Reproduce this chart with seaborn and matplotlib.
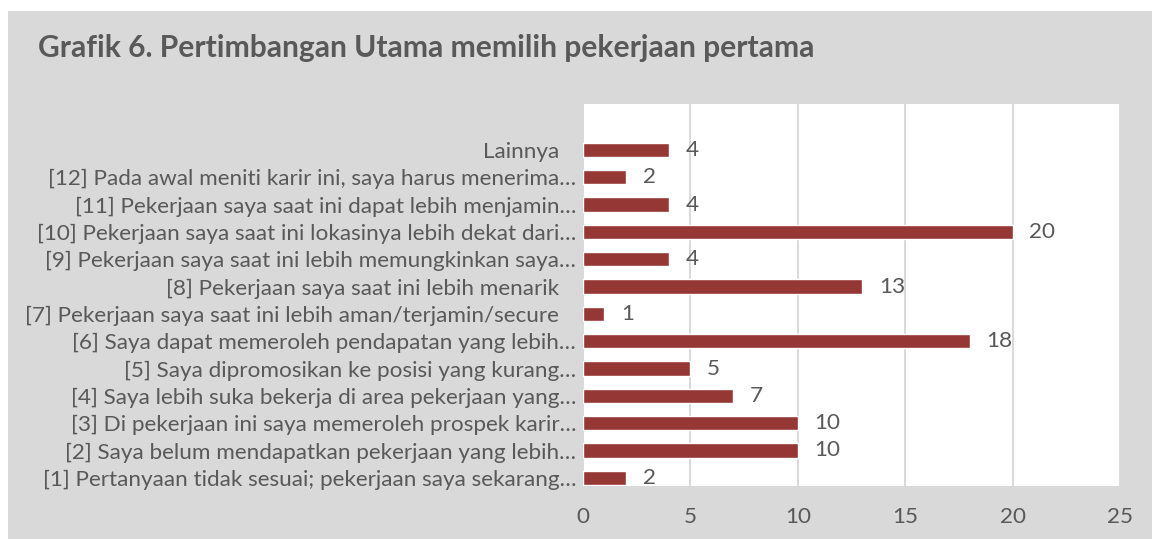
import pandas as pd
import matplotlib.pyplot as plt
import seaborn as sns
from matplotlib.patches import Rectangle

# data, top to bottom as shown in the chart
labels = [
    "Lainnya",
    "[12] Pada awal meniti karir ini, saya harus menerima…",
    "[11] Pekerjaan saya saat ini dapat lebih menjamin…",
    "[10] Pekerjaan saya saat ini lokasinya lebih dekat dari…",
    "[9] Pekerjaan saya saat ini lebih memungkinkan saya…",
    "[8] Pekerjaan saya saat ini lebih menarik",
    "[7] Pekerjaan saya saat ini lebih aman/terjamin/secure",
    "[6] Saya dapat memeroleh pendapatan yang lebih…",
    "[5] Saya dipromosikan ke posisi yang kurang…",
    "[4] Saya lebih suka bekerja di area pekerjaan yang…",
    "[3] Di pekerjaan ini saya memeroleh prospek karir…",
    "[2] Saya belum mendapatkan pekerjaan yang lebih…",
    "[1] Pertanyaan tidak sesuai; pekerjaan saya sekarang…",
]
values = [4, 2, 4, 20, 4, 13, 1, 18, 5, 7, 10, 10, 2]
x_ticks = [0, 5, 10, 15, 20, 25]

TITLE = "Grafik 6. Pertimbangan Utama memilih pekerjaan pertama"
BAR_COLOR = "#953735"
TEXT_COLOR = "#595959"
PANEL_COLOR = "#d9d9d9"
FS = 16.2

sns.set_theme(style="white")
plt.rcParams['font.family'] = ['Lato', 'DejaVu Sans']

df = pd.DataFrame({"label": labels, "value": values})

fig = plt.figure(figsize=(11.52, 5.39), dpi=100)
fig.patch.set_facecolor("white")
panel = Rectangle((8 / 1152, 0), 1 - 8 / 1152, 528 / 539,
                  transform=fig.transFigure, facecolor=PANEL_COLOR,
                  edgecolor="none", zorder=-5)
fig.patches.append(panel)

ax = fig.add_axes([583 / 1152, 53 / 539, 537 / 1152, 382 / 539])
ax.set_facecolor("white")

sns.barplot(data=df, x="value", y="label", order=labels, orient="h",
            color=BAR_COLOR, width=0.53, saturation=1, ax=ax, zorder=3)

ax.bar_label(ax.containers[0], fmt="%d", padding=12, fontsize=FS, color=TEXT_COLOR)

ax.set_xlim(0, 25)
ax.set_ylim(12.3, -1.68)
ax.set_xticks(x_ticks)
ax.grid(axis="x", color=PANEL_COLOR, linewidth=1.4, zorder=0)
ax.grid(axis="y", visible=False)
for s in ax.spines.values():
    s.set_visible(False)

# labels without ellipsis sit a little further left
ylabels = [l if l.endswith("…") else l + "   " for l in labels]
ax.set_yticks(range(len(labels)))
ax.set_yticklabels(ylabels)
ax.tick_params(axis="y", length=0, pad=5, labelsize=FS, labelcolor=TEXT_COLOR)
ax.tick_params(axis="x", length=0, pad=15, labelsize=FS, labelcolor=TEXT_COLOR)
ax.set_xlabel("")
ax.set_ylabel("")

fig.text(38 / 1152, 1 - 48 / 539, TITLE, fontsize=21.6, fontweight="bold",
         color=TEXT_COLOR, ha="left", va="center")

fig.savefig("out.png", dpi=100, facecolor="white")
plt.close(fig)
